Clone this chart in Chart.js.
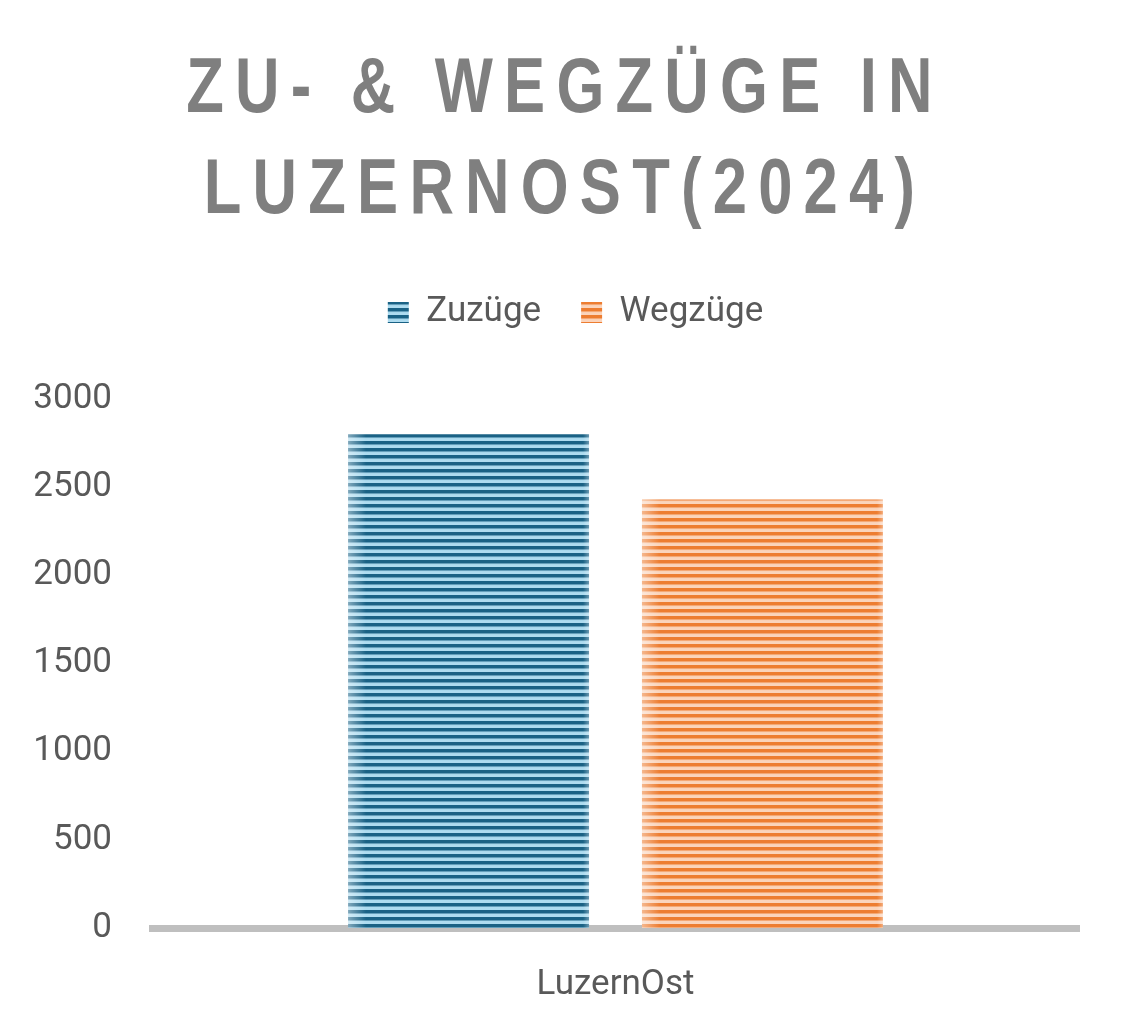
<!DOCTYPE html>
<html lang="de">
<head>
<meta charset="UTF-8">
<title>Zu- &amp; Wegzüge in LuzernOst (2024)</title>
<script src="https://cdn.jsdelivr.net/npm/chart.js"></script>
<style>
  html, body { margin: 0; padding: 0; background: #fff; }
  .wrap { position: relative; width: 1130px; height: 1035px; }
  #chart { position: absolute; left: 0; top: 0; }
  .title {
    position: absolute; top: 35px; left: 0; width: 1130px;
    text-align: center; color: #7f7f7f;
    font: bold 77px 'Liberation Sans', Arial, sans-serif;
    line-height: 101px; letter-spacing: 14px;
    transform: scaleX(0.8); transform-origin: 50% 0;
  }
</style>
</head>
<body>
<div class="wrap">
  <canvas id="chart" width="1130" height="1035"></canvas>
  <div class="title">ZU- &amp; WEGZÜGE IN<br>LUZERNOST(2024)</div>
</div>
<script>
  // data
  const categories = ['LuzernOst'];
  const seriesNames = ['Zuzüge', 'Wegzüge'];
  const zuzuege = [2800];
  const wegzuege = [2430];
  const yMin = 0, yMax = 3000, yStep = 500;

  const textColor = '#595959';
  const blue = { dark: '#1a6285', light: '#aedcf0' };
  const orange = { dark: '#ed7d31', light: '#fbd4bb' };

  // horizontal stripes, lighter at the bar edges
  function makePattern(c, w) {
    const cv = document.createElement('canvas');
    cv.width = w; cv.height = 7;
    const g = cv.getContext('2d');
    g.fillStyle = c.light; g.fillRect(0, 0, w, 7);
    g.fillStyle = c.dark; g.fillRect(0, 0, w, 3.5);
    let lg = g.createLinearGradient(0, 0, 18, 0);
    lg.addColorStop(0, 'rgba(255,255,255,0.45)');
    lg.addColorStop(1, 'rgba(255,255,255,0)');
    g.fillStyle = lg; g.fillRect(0, 0, 18, 7);
    lg = g.createLinearGradient(w - 6, 0, w, 0);
    lg.addColorStop(0, 'rgba(255,255,255,0)');
    lg.addColorStop(1, 'rgba(255,255,255,0.35)');
    g.fillStyle = lg; g.fillRect(w - 6, 0, 6, 7);
    return g.createPattern(cv, 'repeat');
  }

  const stripePlugin = {
    id: 'stripes',
    afterLayout(chart) {
      // move the legend to where it sits in the reference
      const lg = chart.legend;
      const dx = 36, dy = 255 - lg.top;
      lg.left += dx; lg.right += dx;
      lg.top += dy; lg.bottom += dy;
    },
    beforeDraw(chart) {
      chart.data.datasets.forEach((ds, i) => {
        const el = chart.getDatasetMeta(i).data[0];
        const p = ds.backgroundColor;
        if (el && p && p.setTransform) {
          p.setTransform(new DOMMatrix([1, 0, 0, 1, el.x - el.width / 2, 0]));
        }
      });
    }
  };

  const font = { family: 'Roboto', size: 35 };

  const chart = new Chart(document.getElementById('chart'), {
    type: 'bar',
    data: {
      labels: categories,
      datasets: [
        { label: seriesNames[0], data: zuzuege, backgroundColor: blue.dark, categoryPercentage: 0.634, barPercentage: 0.82 },
        { label: seriesNames[1], data: wegzuege, backgroundColor: orange.dark, categoryPercentage: 0.634, barPercentage: 0.82 }
      ]
    },
    options: {
      responsive: false,
      animation: false,
      layout: { padding: { top: 314, left: 0, right: 51, bottom: 0 } },
      plugins: {
        legend: {
          position: 'top',
          labels: { boxWidth: 21, boxHeight: 21, padding: 40, color: textColor, font: font }
        },
        tooltip: { enabled: false },
        title: { display: false }
      },
      scales: {
        x: {
          z: 1,
          grid: { display: false, drawTicks: false },
          border: { display: true, color: '#bfbfbf', width: 7 },
          ticks: { color: textColor, font: font, padding: 36 },
          afterFit(s) { s.height = 107; }
        },
        y: {
          min: yMin, max: yMax,
          grid: { display: false, drawTicks: false },
          border: { display: false },
          ticks: { stepSize: yStep, color: textColor, font: font, padding: 40, callback: v => String(v) },
          afterFit(s) { s.width = 152; }
        }
      }
    },
    plugins: [stripePlugin]
  });

  // swap in striped fills once the bar width is known
  const w0 = Math.round(chart.getDatasetMeta(0).data[0].width);
  chart.data.datasets[0].backgroundColor = makePattern(blue, w0);
  chart.data.datasets[1].backgroundColor = makePattern(orange, w0);
  chart.update();
</script>
</body>
</html>
